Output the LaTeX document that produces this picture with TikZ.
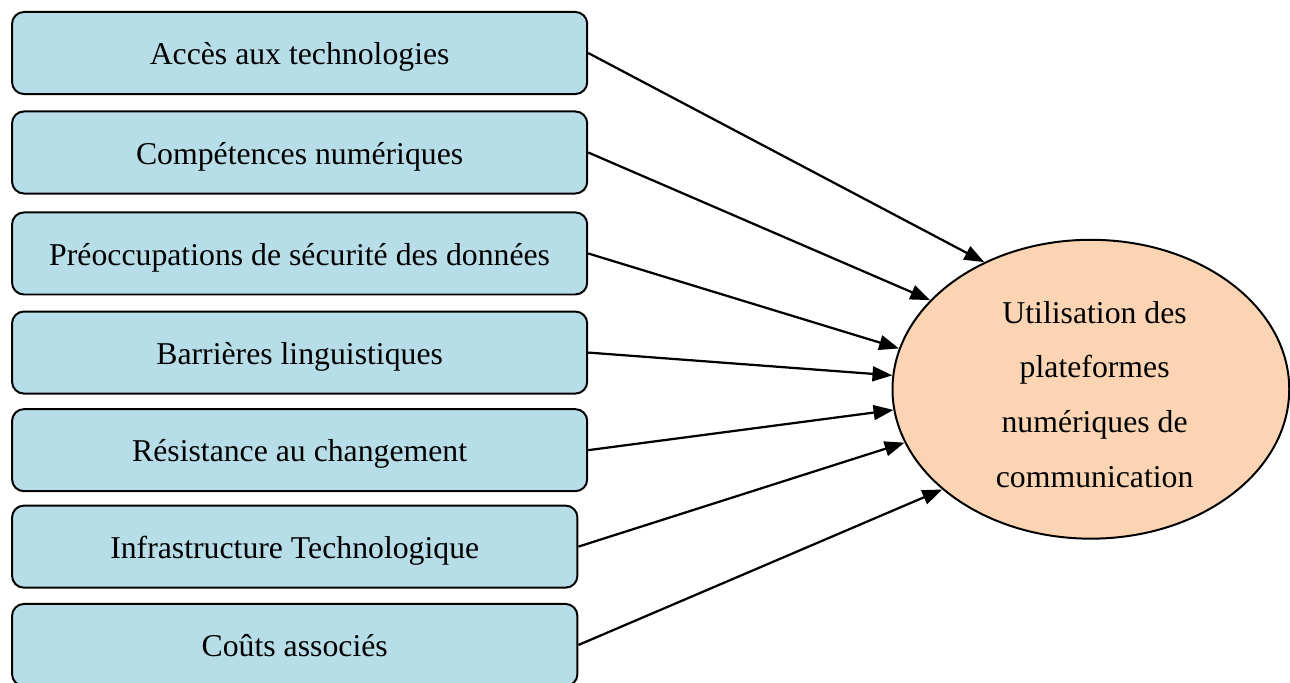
\documentclass[tikz,border=0pt]{standalone}
\usepackage{fontspec}
\setmainfont{Liberation Serif}
\usetikzlibrary{positioning,shapes.geometric,arrows.meta}
\definecolor{bleufacteur}{RGB}{183,222,232}
\definecolor{peche}{RGB}{251,212,180}
\tikzstyle{facteur} = [
    draw,
    fill=bleufacteur,
    line width=0.75pt,
    rounded corners=4.5pt,
    minimum width=7.64cm,
    minimum height=1.09cm,
    text height=11.5pt,
    text depth=2.6pt,
    font=\fontsize{12}{14}\selectfont]
\tikzstyle{usage} = [
    draw,
    ellipse,
    fill=peche,
    line width=0.75pt,
    inner sep=0pt,
    minimum width=5.27cm,
    minimum height=3.97cm,
    align=center,
    font=\fontsize{12}{20.7}\selectfont]
\tikzstyle{fleche} = [
    line width=0.85pt,
    -{Triangle[length=7.5pt,width=5.6pt]}]

\begin{document}
\begin{tikzpicture}
        \useasboundingbox (0,0) rectangle (17.135,-9.072);

        \node[facteur] (b1) at (3.98,-0.704) {Accès aux technologies};
        \node[facteur] (b2) [below = 0.205cm of b1] {Compétences numériques};
        \node[facteur] (b3) [below = 0.225cm of b2] {Préoccupations de sécurité des données};
        \node[facteur] (b4) [below = 0.2cm of b3] {Barrières linguistiques};
        \node[facteur] (b5) [below = 0.18cm of b4] {Résistance au changement};
        \node[facteur, minimum width=7.51cm] (b6) [below = 0.165cm of b5.south west, anchor=north west] {Infrastructure Technologique};
        \node[facteur, minimum width=7.51cm] (b7) [below = 0.19cm of b6.south west, anchor=north west] {Coûts associés};

        \node[usage] (U) at (14.49,-5.17) {\rule{0pt}{12.2pt}\hspace*{0.1cm}Utilisation des\\\hspace*{0.1cm}plateformes\\\hspace*{0.1cm}numériques de\\\hspace*{0.1cm}communication};

        \draw[fleche] (b1.east) -- (U.130.4);
        \draw[fleche] (b2.east) -- (U.151.9);
        \draw[fleche] (b3.east) -- (U.168);
        \draw[fleche] (b4.east) -- (U.176.6);
        \draw[fleche] (b5.east) -- (U.186);
        \draw[fleche] (b6.east) -- (U.196.6);
        \draw[fleche] (b7.east) -- (U.214.9);
    \end{tikzpicture}
\end{document}
